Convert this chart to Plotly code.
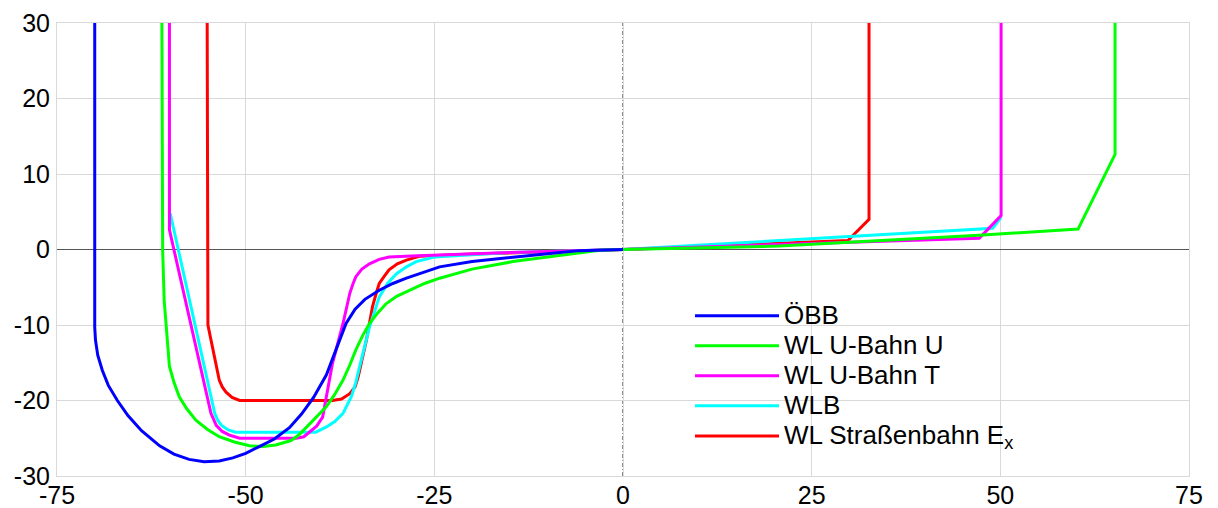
import plotly.graph_objects as go

# ---- data ----
obb_x = [-70, -70, -69.9, -69.6, -69.0, -68.2, -67.0, -65.6, -63.8, -61.4, -59.5, -57.5, -55.5,
         -53.5, -51.7, -50.0, -48.2, -46.2, -44.2, -42.6, -41.0, -39.3, -38.0, -36.7, -35.5,
         -34.2, -32.3, -30.5, -28.7, -26.5, -24.3, -20, -14.6, -10, -5.8, 0]
obb_y = [30, -10.3, -12.0, -14.0, -16.0, -18.0, -20.0, -22.0, -24.0, -26.0, -27.1, -27.8, -28.1,
         -28.0, -27.6, -27.0, -26.1, -25.1, -23.6, -21.8, -19.6, -16.6, -13.2, -9.8, -7.9,
         -6.6, -5.4, -4.5, -3.8, -3.0, -2.3, -1.6, -1.0, -0.55, -0.15, 0]

ubu_x = [-61.1, -61.0, -60.8, -60.5, -60.1, -59.5, -58.8, -57.8, -56.6, -55.1, -53.5, -51.5,
         -49.5, -47.7, -46.0, -44.0, -43.0, -41.7, -40.5, -39.3, -38.2, -37.1, -36.2, -35.4,
         -34.5, -33.6, -32.5, -31.4, -30.0, -28.3, -26.3, -24.3, -20, -14.6, -8, -3.1, 0,
         20.7, 47.2, 60.3, 65.2, 65.2]
ubu_y = [30, 0, -6.7, -11.1, -15.5, -17.6, -19.5, -21.1, -22.6, -23.8, -24.8, -25.5,
         -26.0, -26.1, -25.9, -25.3, -24.6, -23.3, -22.1, -20.8, -19.2, -17.3, -15.3, -13.3,
         -11.4, -9.8, -8.4, -7.2, -6.2, -5.4, -4.5, -3.8, -2.6, -1.6, -0.7, -0.1, 0,
         0.45, 1.9, 2.7, 12.6, 30]

ubt_x = [-60.1, -60.1, -54.6, -54.2, -53.9, -53.1, -52.1, -50.8, -43.3, -42.3, -41.5, -40.6,
         -39.8, -38.5, -37.1, -36.5, -36.2, -35.8, -35.4, -34.6, -33.6, -32.3, -31.0, -28.0,
         -25.2, -15, 0, 47.2, 50.1, 50.1]
ubt_y = [30, 2.6, -21.7, -22.6, -23.3, -24.1, -24.6, -25.0, -25.0, -24.8, -24.2, -23.4,
         -22.2, -15.1, -9.8, -7.2, -5.8, -4.6, -3.6, -2.6, -1.9, -1.3, -1.0, -0.85,
         -0.75, -0.4, 0, 1.5, 4.5, 30]

wlb_x = [-60.0, -57.4, -54.1, -53.7, -53.2, -52.3, -51.3, -40.7, -39.3, -38.2, -37.1, -36.0,
         -35.4, -34.9, -33.6, -32.3, -31.2, -30.0, -28.7, -27.4, -25, -15, 0, 49.0, 50.1]
wlb_y = [4.8, -6.7, -21.7, -22.6, -23.3, -23.9, -24.2, -24.2, -23.5, -22.8, -21.7, -19.5,
         -17.6, -15.5, -10.3, -6.3, -4.5, -3.2, -2.3, -1.6, -1.0, -0.4, 0, 2.8, 4.3]

str_x = [-55.1, -55.0, -53.5, -53.1, -52.6, -51.8, -50.8, -38.5, -37.3, -36.2, -35.5, -35.1,
         -34.0, -33.2, -32.7, -32.3, -31.6, -31.0, -29.9, -28.7, -27.0, -20, 0, 29.8, 32.6, 32.6]
str_y = [30, -10.0, -17.3, -18.2, -18.9, -19.6, -20, -20, -19.8, -19.1, -18.2, -16.9,
         -12.0, -7.6, -5.8, -4.5, -3.5, -2.7, -1.9, -1.4, -0.9, -0.6, 0, 1.2, 4.0, 30]

names = ["ÖBB", "WL U-Bahn U", "WL U-Bahn T", "WLB", "WL Straßenbahn E<sub>x</sub>"]
colors = ["#0000FF", "#00FF00", "#FF00FF", "#00FFFF", "#FF0000"]
xs = [obb_x, ubu_x, ubt_x, wlb_x, str_x]
ys = [obb_y, ubu_y, ubt_y, wlb_y, str_y]

x_ticks = [-75, -50, -25, 0, 25, 50, 75]
y_ticks = [-30, -20, -10, 0, 10, 20, 30]

FONT = "Liberation Sans, Arial, sans-serif"

fig = go.Figure()
# draw in reverse order (first series on top), legend shown in original order
for i in reversed(range(5)):
    fig.add_trace(go.Scatter(
        x=xs[i], y=ys[i], mode="lines",
        name='<span style="font-size:26px">' + names[i] + '</span>',
        line=dict(color=colors[i], width=3)))

fig.add_shape(type="line", xref="x", yref="paper", x0=0, x1=0, y0=0, y1=1,
              line=dict(color="#444444", width=1.2, dash="4px,2px,1px,2px"), layer="below")

axis_common = dict(showgrid=True, gridcolor="#D9D9D9", gridwidth=1,
                   showline=True, linecolor="#D9D9D9", linewidth=1, mirror=True,
                   ticks="", automargin=False, tickfont=dict(size=25))

fig.update_layout(
    template="none",
    width=1218, height=508,
    margin=dict(l=57, r=29, t=23, b=32, autoexpand=False),
    paper_bgcolor="white", plot_bgcolor="white",
    font=dict(family=FONT, size=24, color="black"),
    showlegend=True,
    legend=dict(traceorder="reversed", x=0.5592, y=0.398, xanchor="left", yanchor="top",
                bgcolor="rgba(0,0,0,0)", borderwidth=0,
                font=dict(size=20.8, family=FONT, color="black"),
                itemwidth=84),
    xaxis=dict(range=[-75, 75], tickvals=x_ticks, ticktext=[str(v) for v in x_ticks],
               zeroline=False, ticklabelstandoff=-3, **axis_common),
    yaxis=dict(range=[-30, 30], tickvals=y_ticks, ticktext=[str(v) for v in y_ticks],
               zeroline=True, zerolinecolor="#555555", zerolinewidth=1,
               ticklabelstandoff=1, **axis_common),
)

fig.write_html("out.html", config={"displayModeBar": False},
               post_script="document.body.style.margin='0';document.body.style.overflow='hidden';")
